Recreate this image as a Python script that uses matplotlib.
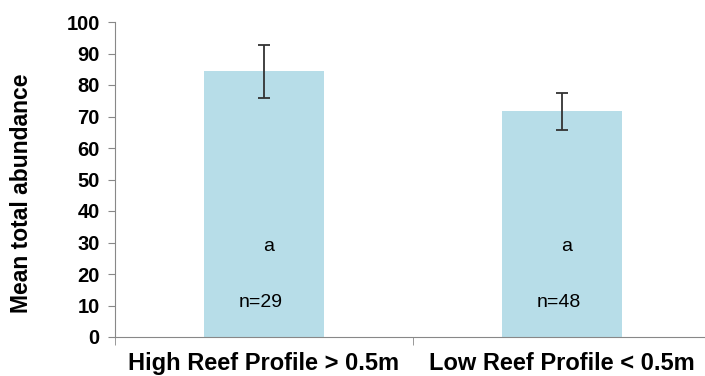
import matplotlib.pyplot as plt

# values
categories = ['High Reef Profile > 0.5m', 'Low Reef Profile < 0.5m']
means = [84.4, 71.7]
errors = [8.4, 5.9]
letters = ['a', 'a']
n_labels = ['n=29', 'n=48']

plt.rcParams['font.family'] = ['Liberation Sans', 'DejaVu Sans']

fig = plt.figure(figsize=(7.05, 3.76), dpi=100)
ax = fig.add_axes([115 / 705, 39 / 376, 596 / 705, 315 / 376])

x = list(range(len(categories)))
ax.bar(x, means, width=0.4, color='#b7dde8', zorder=2)
ax.errorbar(x, means, yerr=errors, fmt='none', ecolor='#333333',
            elinewidth=1.3, capsize=4, capthick=1.3, zorder=3)

for i in x:
    ax.text(i + 0.015, 28.6, letters[i], ha='center', va='center', fontsize=14)
    ax.text(i - 0.01, 10.8, n_labels[i], ha='center', va='center', fontsize=14)

ax.set_xlim(-0.5, 1.5)
ax.set_ylim(0, 100)
ax.set_yticks(range(0, 101, 10))
ax.set_xticks(x)
ax.set_xticklabels(categories, fontsize=17, fontweight='bold')
ax.tick_params(axis='x', length=0, pad=11)
ax.set_xticks([-0.5, 0.5], minor=True)
ax.tick_params(axis='x', which='minor', length=6, color='#888888')
ax.tick_params(axis='y', length=5, color='#888888', labelsize=14.5, pad=6)
for lab in ax.get_yticklabels():
    lab.set_fontweight('bold')

ax.set_ylabel('Mean total abundance', fontsize=16.5, fontweight='bold',
              va='center')
ax.yaxis.set_label_coords(-0.157, 0.455)

for s in ['top', 'right']:
    ax.spines[s].set_visible(False)
ax.spines['left'].set_color('#888888')
ax.spines['bottom'].set_color('#888888')

fig.savefig('out.png', dpi=100)
